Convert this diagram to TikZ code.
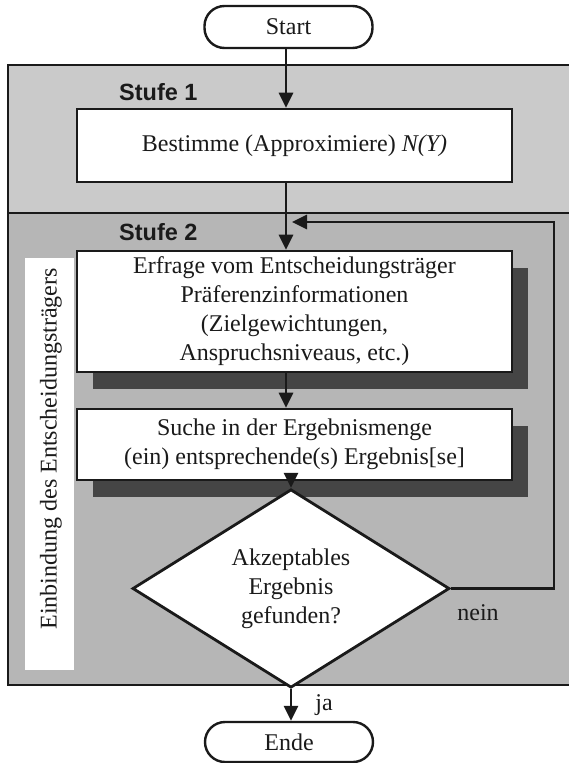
\documentclass[tikz,border=0pt]{standalone}
\usepackage{fontspec}
\setmainfont{Liberation Serif}
\newfontfamily\stufefont{Liberation Sans}
\usetikzlibrary{arrows.meta,shapes.geometric,shadows}
\definecolor{bandA}{HTML}{CACACA}
\definecolor{bandB}{HTML}{B6B6B6}
\definecolor{shade}{HTML}{454545}
\definecolor{ink}{HTML}{1A1A1A}
\begin{document}
\begin{tikzpicture}[x=1pt,y=-1pt,
  txt/.style={font=\fontsize{24}{29}\selectfont, text=ink},
  box/.style={draw=ink, line width=2.6pt, fill=white, minimum width=435pt, inner sep=0pt, align=center, txt},
  boxshadow/.style={general shadow={fill=shade, shadow xshift=16pt, shadow yshift=-17pt}},
  term/.style={draw=ink, line width=2.4pt, fill=white, rounded corners=20pt, minimum width=168pt, minimum height=42pt, inner sep=0pt, txt},
  arr/.style={draw=ink, line width=2.8pt, -{Triangle[length=15pt,width=14pt]}},
  stufe/.style={font=\stufefont\bfseries\fontsize{23.5}{27}\selectfont, text=ink, anchor=west, inner sep=0pt}
]
\useasboundingbox (0,0) rectangle (569,763);
\clip (0,0) rectangle (569,763);
\fill[white] (0,0) rectangle (569,763);
% bands
\path[fill=bandA, draw=ink, line width=2.8pt] (8,65) rectangle (585,213);
\path[fill=bandB, draw=ink, line width=2.8pt] (8,213) rectangle (585,685);
% role strip
\fill[white] (25,258) rectangle (74,670);
\node[txt, rotate=90, inner sep=0pt] (role) at (51,449) {Einbindung des Entscheidungsträgers};
% nodes
\node[term] (start) at (288.5,27) {Start};
\node[stufe] (s1) at (119,92) {Stufe 1};
\node[box, minimum height=73pt] (b1) at (294.5,145.5) {Bestimme (Approximiere) \textit{N(Y)}};
\node[stufe] (s2) at (119,232) {Stufe 2};
\node[box, boxshadow, minimum height=121pt] (b2) at (294.5,311.5)
  {Erfrage vom Entscheidungsträger\\Präferenzinformationen\\(Zielgewichtungen,\\Anspruchsniveaus, etc.)};
\node[box, boxshadow, minimum height=71pt] (b3) at (294.5,444.5)
  {Suche in der Ergebnismenge\\(ein) entsprechende(s) Ergebnis[se]};
\node[diamond, draw=ink, line width=2.8pt, fill=white, minimum width=317pt, minimum height=153pt, inner sep=0pt, align=center, txt] (dec) at (291,588.5)
  {Akzeptables\\Ergebnis\\gefunden?};
\node[term, minimum height=40pt] (ende) at (289,742) {Ende};
\node[txt, inner sep=0pt] (nein) at (478,613) {nein};
\node[txt, inner sep=0pt] (ja) at (324,705) {ja};
% connectors
\coordinate (cx) at (286,0);
\coordinate (fbx) at (554,222);
\coordinate (fbend) at (292,222);
\draw[arr] (start.south -| cx) -- (b1.north -| cx);
\draw[arr] (b1.south -| cx) -- (b2.north -| cx);
\draw[arr] (b2.south -| cx) -- (b3.north -| cx);
\draw[arr] (b3.south -| dec.north) -- (dec.north);
\draw[arr] (dec.south) -- (dec.south |- ende.north);
\draw[arr] (dec.east) -| (fbx) -- (fbend);
\end{tikzpicture}
\end{document}
